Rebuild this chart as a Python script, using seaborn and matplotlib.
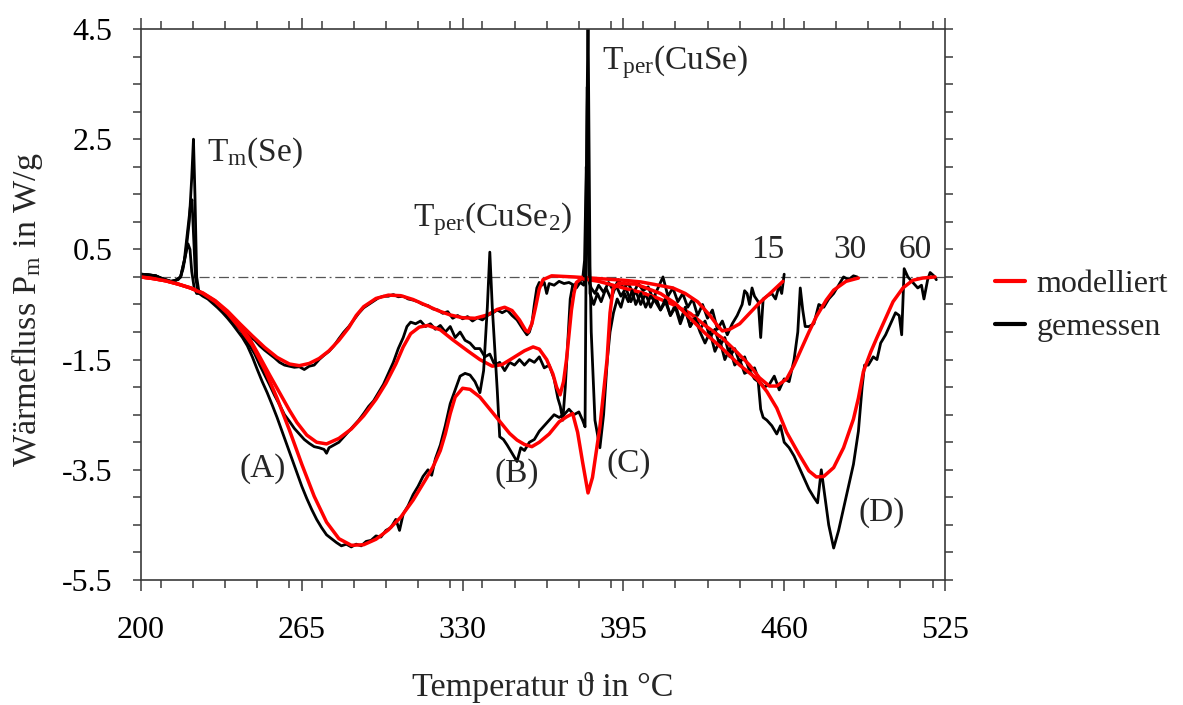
"""
DSC-Kurven: gemessener und modellierter Waermefluss fuer 15, 30 und 60 K/min.
"""

import matplotlib

matplotlib.use("Agg")
import matplotlib.pyplot as plt
import pandas as pd
import seaborn as sns
from matplotlib.lines import Line2D
from matplotlib.ticker import MultipleLocator

# --- data ----------------------------------------------------------------
rates = [15, 30, 60]

mod_15 = [
    (200, 0.0), (205, -0.03), (210, -0.07), (215, -0.13), (220, -0.2), (225, -0.29),
    (230, -0.43), (235, -0.62), (240, -0.85), (245, -1.07), (250, -1.28), (255, -1.46),
    (260, -1.58), (264, -1.61), (268, -1.57), (272, -1.48), (276, -1.34), (280, -1.15),
    (284, -0.92), (287, -0.7), (290, -0.54), (295, -0.39), (300, -0.33), (305, -0.34),
    (310, -0.41), (315, -0.51), (320, -0.61), (325, -0.69), (330, -0.74), (335, -0.75),
    (340, -0.69), (344, -0.59), (347, -0.55), (350, -0.61), (353, -0.78), (355.5, -0.97),
    (356.5, -1.0), (358, -0.85), (359.5, -0.55), (361, -0.22), (362.5, -0.05), (366, 0.02),
    (375, 0.0), (385, -0.03), (395, -0.06), (402, -0.09), (408, -0.14), (415, -0.2),
    (420, -0.3), (425, -0.45), (430, -0.7), (433, -0.88), (435, -0.98), (438, -0.95),
    (442, -0.85), (446, -0.66), (450, -0.47), (455, -0.27), (459.5, -0.08),
]

mod_30 = [
    (200, 0.0), (205, -0.03), (210, -0.07), (215, -0.13), (220, -0.2), (225, -0.3),
    (230, -0.44), (235, -0.64), (240, -0.89), (244, -1.13), (248, -1.45), (252, -1.78),
    (256, -2.1), (260, -2.42), (263, -2.64), (267, -2.87), (271, -3.0), (275, -3.03),
    (280, -2.93), (285, -2.76), (290, -2.52), (295, -2.22), (299, -1.93), (303, -1.58),
    (306, -1.27), (309, -1.03), (312.5, -0.91), (316, -0.88), (321, -0.96), (326, -1.14),
    (332, -1.34), (337, -1.5), (342, -1.62), (346, -1.59), (350, -1.48), (355, -1.34),
    (358.5, -1.27), (361, -1.31), (364, -1.5), (366.5, -1.76), (368, -2.0), (369.4, -2.14),
    (370.8, -1.9), (372, -1.5), (373, -1.05), (374, -0.6), (375, -0.3), (376, -0.1),
    (378, -0.03), (385, -0.08), (395, -0.2), (402, -0.28), (408.6, -0.38), (415, -0.5),
    (422, -0.66), (428, -0.88), (435, -1.11), (441, -1.37), (446, -1.6), (450, -1.83),
    (454, -1.98), (457, -1.98), (461, -1.85), (464, -1.6), (466, -1.4), (470, -1.0),
    (473, -0.72), (477, -0.42), (480, -0.24), (485, -0.08), (490, -0.02),
]

mod_60 = [
    (200, 0.0), (205, -0.03), (210, -0.07), (215, -0.13), (220, -0.2), (225, -0.3),
    (230, -0.45), (235, -0.66), (240, -0.93), (245, -1.24), (250, -1.68), (255, -2.2),
    (260, -2.78), (265, -3.4), (270, -3.98), (275, -4.45), (280, -4.75), (285, -4.87),
    (290, -4.86), (295, -4.76), (300, -4.59), (305, -4.36), (310, -4.05), (315, -3.68),
    (318, -3.45), (321, -3.15), (323, -2.85), (325, -2.48), (327, -2.18), (330, -2.02),
    (333, -2.04), (337, -2.18), (341, -2.4), (345, -2.62), (349, -2.84), (352, -2.96),
    (355, -3.04), (358, -3.08), (361, -3.0), (365, -2.85), (369, -2.63), (372, -2.54),
    (374.5, -2.48), (376.5, -2.82), (378.5, -3.36), (380.7, -3.92), (382.5, -3.64),
    (385.5, -2.72), (388.4, -1.5), (389.6, -0.65), (390.8, -0.22), (393, -0.12),
    (400, -0.13), (410, -0.3), (416, -0.48), (422, -0.75), (428, -1.02), (435, -1.3),
    (442, -1.6), (449, -1.85), (453, -2.08), (457, -2.38), (461, -2.82), (466, -3.22),
    (470, -3.52), (473, -3.63), (476, -3.62), (480, -3.46), (484, -3.1), (488, -2.58),
    (490, -2.2), (492, -1.72), (495, -1.36), (497.5, -1.1), (501, -0.75), (504, -0.45),
    (508, -0.2), (512, -0.06), (516, -0.02), (521, 0.0),
]

mess_15 = [
    (200, 0.05), (202, 0.04), (204, 0.03), (206, 0.02), (208, -0.02), (210, -0.05),
    (212, -0.08), (213, -0.1), (214, -0.06), (215, -0.05), (216, 0.0), (217, 0.15),
    (218, 0.4), (219, 0.6), (219.8, 0.5), (220.5, 0.1), (221.5, -0.2), (222.5, -0.3),
    (224, -0.3), (226, -0.33), (228, -0.4), (230, -0.47), (232, -0.55), (234, -0.62),
    (236, -0.72), (238, -0.8), (240, -0.9), (242, -1.0), (244, -1.08), (246, -1.15),
    (248, -1.25), (250, -1.33), (252, -1.4), (254, -1.47), (256, -1.55), (258, -1.6),
    (260, -1.62), (262, -1.64), (264, -1.63), (266, -1.68), (268, -1.62), (270, -1.6),
    (272, -1.5), (274, -1.42), (276, -1.35), (278, -1.25), (280, -1.12), (282, -1.0),
    (284, -0.9), (286, -0.78), (288, -0.66), (290, -0.56), (292, -0.5), (294, -0.44),
    (296, -0.38), (298, -0.35), (300, -0.35), (302, -0.32), (304, -0.36), (306, -0.35),
    (308, -0.4), (310, -0.42), (312, -0.45), (314, -0.5), (316, -0.52), (318, -0.58),
    (320, -0.6), (322, -0.66), (324, -0.63), (326, -0.75), (328, -0.7), (330, -0.76),
    (332, -0.72), (334, -0.8), (336, -0.74), (338, -0.78), (340, -0.7), (342, -0.66),
    (344, -0.6), (346, -0.65), (348, -0.6), (350, -0.7), (352, -0.78), (354, -0.92),
    (356, -1.05), (357, -1.0), (358, -0.85), (359, -0.5), (360, -0.2), (361, -0.1),
    (362, -0.15), (363, -0.1), (364, -0.3), (365, -0.12), (367, -0.15), (369, -0.08),
    (371, -0.12), (373, -0.1), (375, -0.15), (377, -0.08), (378.5, -0.05), (379.3, 0.3),
    (380.0, 2.0), (380.6, 0.8), (381.2, -0.1), (382, -0.2), (383.5, -0.3), (385, -0.15),
    (387, -0.28), (389, -0.1), (391, -0.25), (393, -0.05), (395, -0.2), (397, -0.12),
    (399, -0.3), (401, -0.12), (403, -0.25), (405, -0.18), (407, -0.4), (409, -0.2),
    (411, 0.0), (413, -0.35), (415, -0.2), (417, -0.45), (419, -0.3), (421, -0.55),
    (423, -0.4), (425, -0.7), (427, -0.5), (429, -0.75), (431, -0.6), (433, -0.95),
    (435, -0.8), (437, -1.05), (439, -0.85), (441, -0.7), (443, -0.5), (444, -0.25),
    (445, -0.3), (446, -0.5), (447, -0.2), (448, -0.35), (449.5, -0.45), (450.5, -1.1),
    (451.5, -0.4), (453, -0.35), (455, -0.3), (456.5, -0.4), (458, -0.15), (459, -0.3),
    (460, 0.05),
]

mess_30 = [
    (200, 0.05), (203, 0.04), (206, 0.02), (209, -0.04), (212, -0.08), (214, -0.06),
    (216, 0.0), (217.5, 0.3), (219, 0.9), (220, 1.3), (220.6, 1.4), (221.2, 0.8),
    (222, 0.0), (223, -0.25), (224.5, -0.3), (226, -0.35), (228, -0.42), (230, -0.5),
    (232, -0.58), (234, -0.66), (236, -0.76), (238, -0.86), (240, -0.95), (242, -1.1),
    (244, -1.25), (246, -1.4), (248, -1.6), (250, -1.78), (252, -1.96), (254, -2.15),
    (256, -2.32), (258, -2.5), (260, -2.62), (262, -2.75), (264, -2.85), (266, -2.95),
    (268, -3.02), (270, -3.08), (272, -3.1), (274, -3.13), (275, -3.2), (276, -3.1),
    (278, -3.05), (280, -3.0), (282, -2.9), (284, -2.8), (286, -2.7), (288, -2.6),
    (290, -2.48), (292, -2.35), (294, -2.25), (296, -2.1), (298, -1.95), (300, -1.75),
    (302, -1.55), (304, -1.3), (306, -1.1), (307.5, -0.9), (309, -0.82), (311, -0.85),
    (313, -0.8), (315, -0.9), (317, -0.85), (319, -0.95), (321, -0.88), (323, -1.0),
    (325, -0.9), (327, -1.1), (329, -1.0), (331, -1.15), (333, -1.2), (335, -1.3),
    (337, -1.3), (339, -1.45), (341, -1.4), (343, -1.6), (345, -1.55), (347, -1.7),
    (349, -1.55), (351, -1.6), (353, -1.5), (355, -1.6), (357, -1.5), (359, -1.55),
    (361, -1.45), (363, -1.65), (365, -1.6), (367, -1.85), (368.5, -2.2), (369.5, -2.35),
    (370.5, -2.6), (371.5, -2.0), (372.5, -1.2), (373.5, -0.4), (374.5, -0.15),
    (376, -0.2), (377.5, -0.1), (379, -0.15), (379.6, 0.3), (380.0, 1.6), (380.4, 3.45),
    (380.9, 1.5), (381.5, -0.3), (383, -0.5), (384.5, -0.3), (386, -0.45), (388, -0.2),
    (390, -0.4), (392, -0.15), (394, -0.35), (396, -0.2), (398, -0.45), (400, -0.25),
    (402, -0.5), (404, -0.3), (406, -0.55), (408, -0.35), (410, -0.6), (412, -0.45),
    (414, -0.7), (416, -0.5), (418, -0.8), (420, -0.55), (422, -0.9), (424, -0.7),
    (426, -0.95), (428, -0.8), (430, -1.1), (432, -0.95), (434, -1.25), (436, -1.1),
    (438, -1.45), (440, -1.3), (442, -1.55), (444, -1.45), (446, -1.7), (448, -1.65),
    (450, -1.9), (452, -2.0), (454, -1.95), (456, -1.8), (458, -2.05), (460, -1.85),
    (462, -1.9), (464, -1.5), (465.5, -1.0), (466.5, -0.2), (467.5, -0.6), (468.5, -0.9),
    (470, -0.9), (472, -0.85), (474, -0.5), (476, -0.55), (478, -0.4), (480, -0.3),
    (482, -0.15), (484, 0.0), (486, -0.05), (488, 0.02), (489.5, 0.0),
]

mess_60 = [
    (200, 0.05), (203, 0.04), (206, 0.02), (209, -0.04), (212, -0.08), (214, -0.06),
    (216, 0.0), (218, 0.4), (219.5, 1.0), (220.5, 1.8), (221.2, 2.5), (221.8, 1.5),
    (222.5, 0.0), (223.5, -0.3), (225, -0.35), (227, -0.4), (229, -0.48), (231, -0.56),
    (233, -0.65), (235, -0.75), (237, -0.86), (239, -0.98), (241, -1.1), (243, -1.25),
    (245, -1.45), (247, -1.68), (249, -1.9), (251, -2.1), (253, -2.32), (255, -2.55),
    (257, -2.8), (259, -3.05), (261, -3.3), (263, -3.55), (265, -3.8), (267, -4.02),
    (269, -4.22), (271, -4.4), (273, -4.55), (275, -4.68), (277, -4.75), (279, -4.82),
    (281, -4.88), (283, -4.85), (285, -4.9), (287, -4.85), (289, -4.88), (291, -4.8),
    (293, -4.78), (295, -4.7), (297, -4.72), (299, -4.6), (301, -4.55), (303, -4.4),
    (304.5, -4.6), (306, -4.3), (308, -4.15), (310, -3.95), (312, -3.8), (314, -3.62),
    (316, -3.5), (317.5, -3.6), (319, -3.3), (321, -3.05), (323, -2.7), (325, -2.3),
    (327, -2.05), (329, -1.8), (331, -1.75), (333, -1.78), (335, -1.9), (337, -2.1),
    (338.5, -1.7), (340, -0.55), (341, 0.45), (342, -0.55), (344, -2.05), (345, -2.9),
    (346.5, -2.95), (348, -3.05), (350, -3.2), (352, -3.35), (353.5, -3.1), (355, -3.15),
    (357, -3.0), (359, -2.95), (361, -2.8), (363, -2.7), (365, -2.6), (367, -2.5),
    (369, -2.55), (371, -2.5), (373, -2.4), (375, -2.5), (377, -2.45), (378.5, -2.6),
    (379.5, -2.72), (379.9, 0.2), (380.3, 3.0), (380.7, 4.8), (381.0, 3.0), (381.5, 0.2),
    (382, -1.0), (383.5, -2.6), (385.5, -3.1), (387, -2.5), (388.5, -1.5), (389.6, -1.0),
    (391, -0.65), (392.5, -0.4), (394, -0.55), (395.5, -0.3), (397, -0.45), (398.5, -0.25),
    (400, -0.5), (402, -0.3), (404, -0.55), (406, -0.35), (408, -0.45), (410, -0.6),
    (412, -0.4), (414, -0.7), (416, -0.55), (418, -0.85), (420, -0.6), (422, -0.9),
    (424, -0.75), (426, -1.0), (428, -1.2), (430, -1.0), (432, -1.35), (434, -1.15),
    (436, -1.5), (438, -1.3), (440, -1.6), (442, -1.5), (444, -1.75), (446, -1.7),
    (448, -1.85), (449.5, -1.9), (450.5, -2.4), (451.5, -2.55), (453, -2.6), (455, -2.7),
    (457, -2.85), (458.5, -2.7), (460, -3.0), (462, -3.1), (464, -3.25), (466, -3.45),
    (468, -3.65), (470, -3.85), (472, -4.0), (473.5, -4.1), (475, -3.5), (476.5, -4.0),
    (478, -4.5), (480, -4.92), (482, -4.6), (484, -4.2), (486, -3.8), (488, -3.4),
    (490, -2.8), (491.5, -2.0), (492.5, -1.6), (494, -1.6), (496, -1.45), (497.5, -1.5),
    (499, -1.2), (501, -1.05), (503, -0.85), (505, -0.65), (506.5, -0.7), (507.5, -1.05),
    (508.5, 0.15), (510, 0.0), (512, -0.1), (514, -0.2), (515.5, -0.15), (516.5, -0.4),
    (518, -0.05), (519, 0.08), (520.5, 0.02), (521.5, -0.05),
]

x_ticks = [200, 265, 330, 395, 460, 525]
y_ticks = [-5.5, -3.5, -1.5, 0.5, 2.5, 4.5]
y_tick_labels = ["-5.5", "-3.5", "-1.5", "0.5", "2.5", "4.5"]

# annotation texts: (text, x, y, ha)
annotations = [
    (r"T$_{\mathrm{m}}$(Se)", 226.5, 2.25, "left"),
    (r"T$_{\mathrm{per}}$(CuSe$_{2}$)", 310.0, 1.05, "left"),
    (r"T$_{\mathrm{per}}$(CuSe)", 386.5, 3.9, "left"),
    ("(A)", 249.0, -3.47, "center"),
    ("(B)", 352.0, -3.56, "center"),
    ("(C)", 397.0, -3.38, "center"),
    ("(D)", 499.5, -4.28, "center"),
    ("15", 453.5, 0.5, "center"),
    ("30", 486.5, 0.5, "center"),
    ("60", 513.0, 0.5, "center"),
]

# --- style ---------------------------------------------------------------
sns.set_theme(style="ticks")
plt.rcParams["font.family"] = ["Liberation Serif", "DejaVu Serif"]
plt.rcParams["mathtext.fontset"] = "custom"
plt.rcParams["mathtext.rm"] = "Liberation Serif"
plt.rcParams["mathtext.it"] = "Liberation Serif:italic"
plt.rcParams["axes.unicode_minus"] = False

FS_TICK = 23
FS_LABEL = 24.5
FS_TEXT = 24
RED = "#ff0000"
AXIS_GRAY = "#3a3a3a"

fig = plt.figure(figsize=(11.83, 7.05), dpi=100)
ax = fig.add_axes([0.1192, 0.1773, 0.6796, 0.7816])

curves = {15: (mess_15, mod_15), 30: (mess_30, mod_30), 60: (mess_60, mod_60)}
for rate in rates:
    mess, mod = curves[rate]
    df_mess = pd.DataFrame(mess, columns=["T", "P"])
    df_mod = pd.DataFrame(mod, columns=["T", "P"])
    sns.lineplot(data=df_mess, x="T", y="P", sort=False, estimator=None,
                 color="black", lw=2.0, ax=ax)
    sns.lineplot(data=df_mod, x="T", y="P", sort=False, estimator=None,
                 color=RED, lw=2.5, ax=ax)

ax.axhline(0, color="#555555", lw=0.9, ls=(0, (8, 3, 1.5, 3)), zorder=0)

ax.set_xlim(200, 525)
ax.set_ylim(-5.5, 4.5)
ax.set_xticks(x_ticks)
ax.xaxis.set_minor_locator(MultipleLocator(13))
ax.set_yticks(y_ticks)
ax.set_yticklabels(y_tick_labels)
ax.yaxis.set_minor_locator(MultipleLocator(0.5))

ax.tick_params(which="both", direction="out", top=True, right=True,
               labeltop=False, labelright=False, colors=AXIS_GRAY,
               labelcolor="black", labelsize=FS_TICK, width=1.1)
ax.tick_params(axis="x", which="major", length=8, pad=18)
ax.tick_params(axis="x", which="minor", length=5.5)
ax.tick_params(axis="y", which="both", length=5.5, pad=15)
for side in ["left", "right", "top", "bottom"]:
    ax.spines[side].set_visible(True)
    ax.spines[side].set_color(AXIS_GRAY)
    ax.spines[side].set_linewidth(1.2)

ax.set_xlabel("Temperatur ϑ in °C", fontsize=FS_LABEL, labelpad=19)
ax.set_ylabel(r"Wärmefluss P$_{\mathrm{m}}$ in W/g", fontsize=FS_LABEL)
ax.yaxis.set_label_coords(-0.12, 0.49)

for text, tx, ty, ha in annotations:
    ax.text(tx, ty, text, fontsize=FS_TEXT, ha=ha, va="center")

handles = [
    Line2D([], [], color=RED, lw=3.0),
    Line2D([], [], color="black", lw=3.0),
]
ax.legend(handles, ["modelliert", "gemessen"], loc="center left",
          bbox_to_anchor=(1.062, 0.497), frameon=False, fontsize=FS_TICK,
          handlelength=0.95, handletextpad=0.35, labelspacing=0.42,
          borderaxespad=0.0, borderpad=0.0)

fig.savefig("out.png", dpi=100)
plt.close(fig)
